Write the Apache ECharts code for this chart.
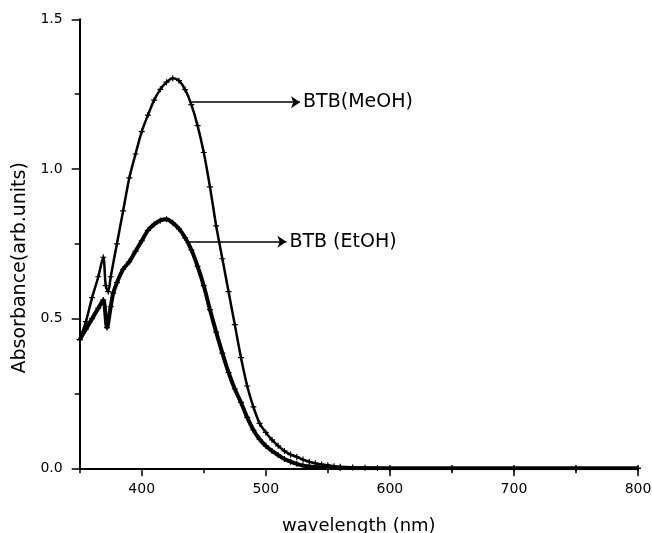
<!DOCTYPE html>
<html>
<head>
<meta charset="utf-8">
<script src="https://cdn.jsdelivr.net/npm/echarts@6/dist/echarts.min.js"></script>
<style>
html,body{margin:0;padding:0;background:#fff;}
#chart{width:652px;height:533px;}
</style>
</head>
<body>
<div id="chart"></div>
<script>
// ---- data ----
const wlMeOH = [350,355,360,365,369,371,373,375,380,385,390,395,400,405,410,415,420,425,430,435,440,445,450,455,460,465,470,475,480,485,490,495,500,505,510,515,520,525,530,535,540,545,550,555,560,570,580,590,600,650,700,750,800];
const absMeOH = [0.43,0.49,0.57,0.64,0.705,0.61,0.59,0.64,0.75,0.86,0.97,1.05,1.125,1.18,1.23,1.266,1.29,1.303,1.295,1.265,1.215,1.145,1.055,0.94,0.81,0.70,0.59,0.48,0.37,0.275,0.205,0.15,0.12,0.095,0.075,0.058,0.046,0.038,0.029,0.022,0.017,0.013,0.010,0.007,0.005,0.003,0.002,0.001,0,0,0,0,0];

const wlEtOH = [350,355,360,365,369,372,375,377,380,385,390,395,400,405,410,415,420,425,430,435,440,445,450,455,460,465,470,475,480,485,490,495,500,505,510,515,520,525,530,535,540,550,560,600,650,700,750,800];
const absEtOH = [0.43,0.465,0.50,0.535,0.562,0.47,0.54,0.585,0.62,0.665,0.69,0.725,0.76,0.795,0.815,0.828,0.832,0.82,0.80,0.77,0.73,0.675,0.61,0.53,0.455,0.385,0.32,0.265,0.22,0.17,0.128,0.097,0.075,0.058,0.044,0.031,0.022,0.015,0.009,0.006,0.004,0.002,0.001,0,0,0,0,0];

const xTickLabels = [400,500,600,700,800];
const yTickLabels = [0.0,0.5,1.0,1.5];

// annotation arrows: [startX, endX, y] in data units
const arrowMeOH = [440.3, 527.6, 1.223];
const arrowEtOH = [437, 516.6, 0.757];
const labelMeOH = 'BTB(MeOH)';
const labelEtOH = 'BTB (EtOH)';

const pairs = (xs, ys) => xs.map((x, i) => [x, ys[i]]);
const plus = 'path://M2,0H3V2H5V3H3V5H2V3H0V2H2Z';
const FONT = 'DejaVu Sans';

function arrow(a, text) {
  return {
    silent: true,
    symbol: ['none', 'arrow'],
    symbolSize: 9,
    lineStyle: {color: '#000', width: 1.5, type: 'solid'},
    label: {show: true, position: 'end', distance: 3, formatter: text,
            color: '#000', fontFamily: FONT, fontSize: 19},
    data: [[{coord: [a[0], a[2]]}, {coord: [a[1], a[2]]}]]
  };
}

const chart = echarts.init(document.getElementById('chart'), null, {renderer: 'canvas'});
chart.setOption({
  animation: false,
  backgroundColor: '#fff',
  grid: {left: 79.7, right: 14, top: 19.3, bottom: 64.7, containLabel: false, outerBoundsMode: 'none'},
  xAxis: [{
    type: 'value', min: 350, max: 800, interval: 50,
    name: 'wavelength (nm)', nameLocation: 'middle', nameGap: 49,
    nameTextStyle: {fontFamily: FONT, fontSize: 18, color: '#000'},
    axisLine: {show: true, onZero: false, lineStyle: {color: '#000', width: 2}},
    axisTick: {show: true, inside: false, length: 5, lineStyle: {color: '#000', width: 1.5}},
    axisLabel: {show: true, customValues: xTickLabels, margin: 14,
                fontFamily: FONT, fontSize: 14, color: '#000'},
    splitLine: {show: false}
  }, {
    type: 'value', min: 350, max: 800, interval: 50, position: 'bottom',
    axisLine: {show: false},
    axisTick: {show: true, inside: false, length: 8, customValues: xTickLabels,
               lineStyle: {color: '#000', width: 1.5}},
    axisLabel: {show: false},
    splitLine: {show: false}
  }],
  yAxis: {
    type: 'value', min: 0, max: 1.5, interval: 0.5,
    name: 'Absorbance(arb.units)', nameLocation: 'middle', nameGap: 48,
    nameTextStyle: {fontFamily: FONT, fontSize: 19, color: '#000', padding: [0, 48, 0, 0]},
    axisLine: {show: true, onZero: false, lineStyle: {color: '#000', width: 2}},
    axisTick: {show: true, inside: false, length: 8, lineStyle: {color: '#000', width: 1.5}},
    minorTick: {show: true, splitNumber: 2, length: 5, lineStyle: {color: '#000', width: 1.5}},
    axisLabel: {show: true, margin: 17, fontFamily: FONT, fontSize: 14, color: '#000',
                formatter: v => v.toFixed(1)},
    splitLine: {show: false}
  },
  series: [{
    name: 'BTB(MeOH)', type: 'line', xAxisIndex: 0,
    data: pairs(wlMeOH, absMeOH),
    smooth: 0.3,
    symbol: plus, symbolSize: 6, showAllSymbol: true,
    itemStyle: {color: '#000'},
    lineStyle: {color: '#000', width: 2.5},
    markLine: arrow(arrowMeOH, labelMeOH)
  }, {
    name: 'BTB (EtOH)', type: 'line', xAxisIndex: 0,
    data: pairs(wlEtOH, absEtOH),
    smooth: 0.3,
    symbol: plus, symbolSize: 6, showAllSymbol: true,
    itemStyle: {color: '#000'},
    lineStyle: {color: '#000', width: 4},
    markLine: arrow(arrowEtOH, labelEtOH)
  }]
});
</script>
</body>
</html>
